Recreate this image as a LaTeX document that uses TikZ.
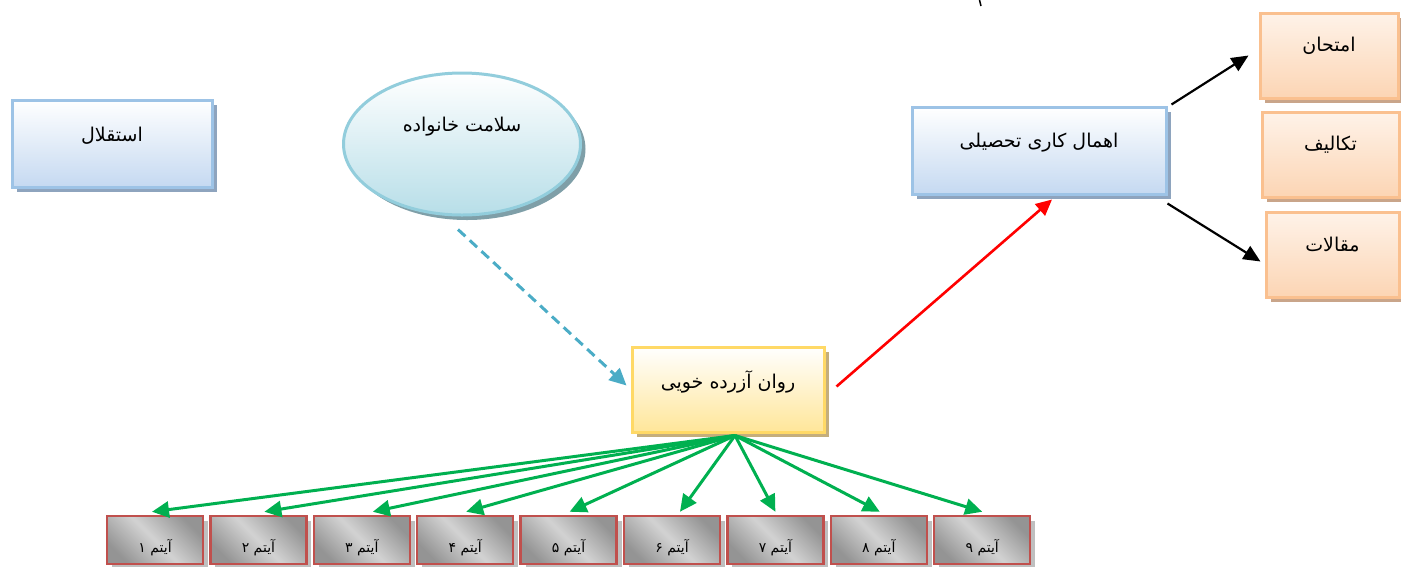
\documentclass[tikz,border=0pt]{standalone}
\usepackage{fontspec}
\newfontfamily\arabicfont[Script=Arabic]{DejaVu Sans}
\TeXXeTstate=1
\usetikzlibrary{arrows.meta,shadows,shapes.geometric,calc}
\definecolor{blueborder}{HTML}{9DC3E6}
\definecolor{bluefill}{HTML}{C5D9F1}
\definecolor{blueshadow}{HTML}{8EA4BE}
\definecolor{ellborder}{HTML}{92CDDC}
\definecolor{ellfill}{HTML}{B7DEE8}
\definecolor{ellshadow}{HTML}{7F9FA8}
\definecolor{orborder}{HTML}{FAC08F}
\definecolor{orfill}{HTML}{FCD5B4}
\definecolor{orshadow}{HTML}{C9A58A}
\definecolor{yelborder}{HTML}{FFD966}
\definecolor{yelfill}{HTML}{FFE699}
\definecolor{yelshadow}{HTML}{C4AE7C}
\definecolor{itborder}{HTML}{C0504D}
\definecolor{itshadow}{HTML}{BFBFBF}
\definecolor{arrgreen}{HTML}{00B050}
\definecolor{arrblue}{HTML}{4BACC6}
\begin{document}
\begin{tikzpicture}[x=1pt,y=-1pt,
  shad/.style={drop shadow={shadow xshift=5pt,shadow yshift=-5pt,fill=#1,opacity=1}},
  bigfont/.style={font=\arabicfont\fontsize{19}{22}\selectfont},
  bluebox/.style={rectangle,draw=blueborder,line width=3pt,top color=white,bottom color=bluefill,shad=blueshadow},
  ellbox/.style={ellipse,draw=ellborder,line width=3pt,top color=white,bottom color=ellfill,shad=ellshadow,minimum width=237pt,minimum height=142pt},
  orbox/.style={rectangle,draw=orborder,line width=3pt,top color=white!70!orfill,bottom color=orfill,shad=orshadow,minimum height=85pt},
  yelbox/.style={rectangle,draw=yelborder,line width=3pt,top color=white,bottom color=yelfill,shad=yelshadow,minimum width=192pt,minimum height=85pt},
  itembox/.style={rectangle,draw=itborder,line width=2.5pt,top color=gray!95!black!80,bottom color=gray!95!black!80,middle color=gray!35,shading angle=-45,shad=itshadow,minimum width=96pt,minimum height=48pt},
  lbl/.style={bigfont,inner sep=0pt},
  itlbl/.style={font=\arabicfont\fontsize{14}{16}\selectfont,inner sep=0pt},
  greenarr/.style={draw=arrgreen,line width=3pt,-{Triangle[length=17pt,width=16pt]}},
  blackarr/.style={draw=black,line width=2.2pt,-{Triangle[length=17pt,width=15pt]}},
  redarr/.style={draw=red,line width=2.6pt,-{Triangle[length=16pt,width=15pt]}},
  bluearr/.style={draw=arrblue,line width=3pt,dash pattern=on 10pt off 6pt,-{Triangle[length=17pt,width=16pt]}}
]
\useasboundingbox (0,0) rectangle (1401,566);
% top fragment
\draw[line width=1.5pt] (979.5,0) -- (981,6);
% nodes
\node[bluebox,minimum width=200pt,minimum height=87pt,label={[lbl,yshift=8pt]center:{\arabicfont\beginR استقلال\endR}}] (est) at (112,143.5) {};
\node[ellbox,label={[lbl,yshift=17pt]center:{\arabicfont\beginR سلامت خانواده\endR}}] (ell) at (462,144) {};
\node[bluebox,minimum width=254pt,minimum height=87pt,label={[lbl,yshift=8pt]center:{\arabicfont\beginR اهمال کاری تحصیلی\endR}}] (eh) at (1039,150.5) {};
\node[orbox,minimum width=138pt,label={[lbl,yshift=10pt]center:{\arabicfont\beginR امتحان\endR}}] (e1) at (1329,55.5) {};
\node[orbox,minimum width=137pt,label={[lbl,yshift=10pt]center:{\arabicfont\beginR تکالیف\endR}}] (e2) at (1330.5,154.5) {};
\node[orbox,minimum width=133pt,label={[lbl,yshift=10pt]center:{\arabicfont\beginR مقالات\endR}}] (e3) at (1332.5,254.5) {};
\node[yelbox,label={[lbl,yshift=8pt]center:{\arabicfont\beginR روان آزرده خویی\endR}}] (rz) at (728,389.5) {};
\foreach \i/\d in {1/۱,2/۲,3/۳,4/۴,5/۵,6/۶,7/۷,8/۸,9/۹}{
  \node[itembox,label={[itlbl,yshift=-8pt]center:{\arabicfont\beginR آیتم \d\endR}}] (it\i) at ({155+(\i-1)*103.4},540) {};
}
% connectors
\foreach \i/\dx in {1/-3,2/6,3/11,4/1,5/1,6/8,7/0,8/1,9/0}{
  \draw[greenarr] ([xshift=7pt,yshift=-2pt]rz.south) -- ([xshift=\dx pt,yshift=3pt]it\i.north);
}
\draw[bluearr] ([shift={(-4,13)}]ell.south) -- ([shift={(-4,-4)}]rz.west);
\draw[redarr] ([shift={(11,-3)}]rz.east) -- ([shift={(13,4)}]eh.south);
\draw[blackarr] ([shift={(4,-1)}]eh.north east) -- ([shift={(-10,0)}]e1.west);
\draw[blackarr] ([shift={(0,8)}]eh.south east) -- ([shift={(-4,7)}]e3.west);
\end{tikzpicture}
\end{document}
